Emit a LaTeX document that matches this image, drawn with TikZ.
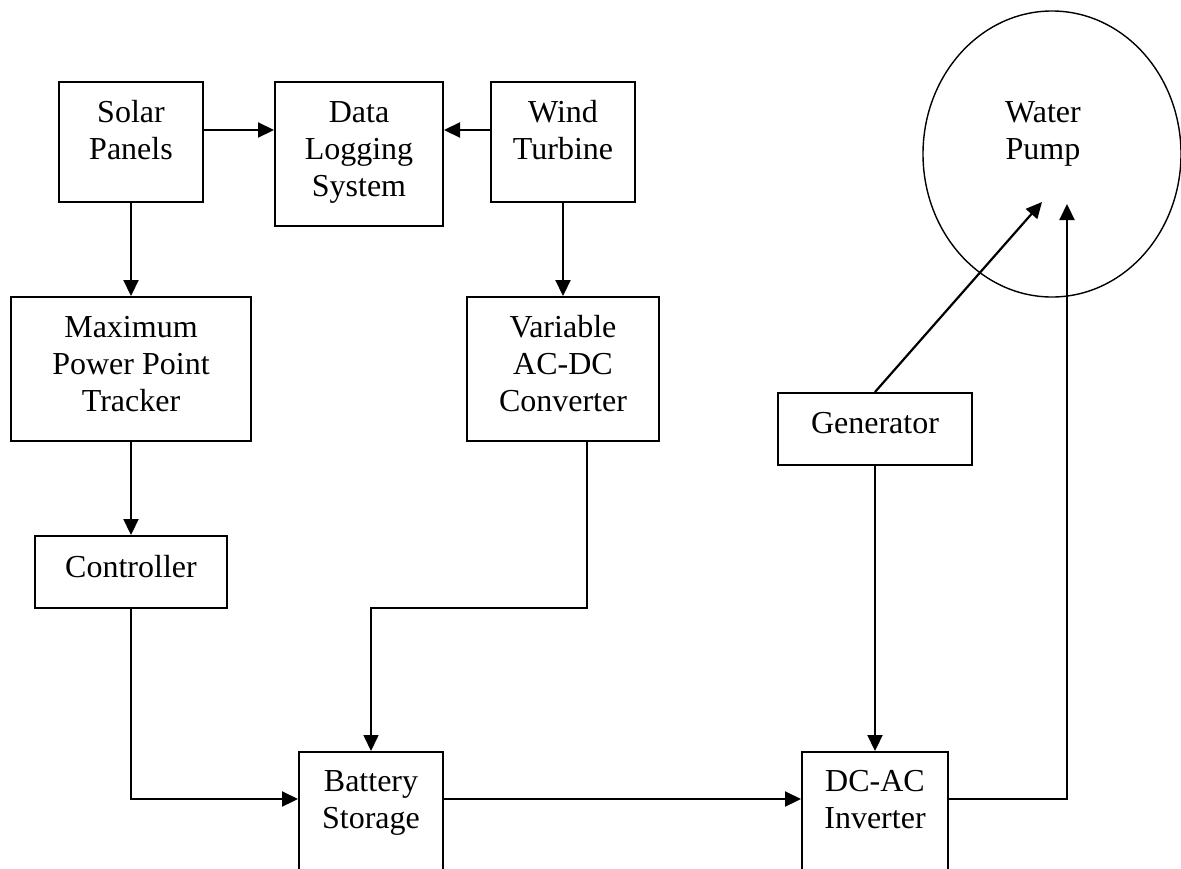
\documentclass[tikz,border=0pt]{standalone}
\usepackage{fontspec}
\setmainfont{Liberation Serif}
\usetikzlibrary{arrows.meta,shapes.geometric,calc}
\newcommand{\mystrut}{\rule{0pt}{24pt}}
\begin{document}
\begin{tikzpicture}[x=1pt,y=-1pt,
  box/.style={draw, line width=2pt, rectangle, inner sep=0pt},
  lbl/.style={anchor=north, inner sep=0pt, align=center, font=\fontsize{32}{37}\selectfont},
  arr/.style={line width=2.2pt, -{Triangle[length=16pt,width=15pt]}},
  thinarr/.style={line width=1.6pt, -{Triangle[length=16pt,width=15pt]}},
  thinline/.style={line width=1.3pt},
]
\useasboundingbox (0,0) rectangle (1181,868);
\fill[white] (0,0) rectangle (1181,868);
\clip (0,0) rectangle (1181,868);

% boxes
\node[box, minimum width=144, minimum height=120] (solar) at (131,142) {};
\node[box, minimum width=168, minimum height=144] (data) at (359,154) {};
\node[box, minimum width=144, minimum height=120] (wind) at (563,142) {};
\node[box, minimum width=240, minimum height=144] (mppt) at (131,369) {};
\node[box, minimum width=192, minimum height=144] (var) at (563,369) {};
\node[box, minimum width=192, minimum height=72] (ctrl) at (131,572) {};
\node[box, minimum width=194, minimum height=72] (gen) at (875,429) {};
\node[box, minimum width=144, minimum height=144] (batt) at (371,824) {};
\node[box, minimum width=146, minimum height=144] (inv) at (875,824) {};
\node[draw, ellipse, line width=1.4pt, minimum width=258, minimum height=286, inner sep=0pt] (pump) at (1052,154) {};

% labels
\node[lbl] (solarT) at (131,98) {\mystrut Solar\\Panels};
\node[lbl] (dataT) at (359,98) {\mystrut Data\\Logging\\System};
\node[lbl] (windT) at (563,98) {\mystrut Wind\\Turbine};
\node[lbl] (mpptT) at (131,313) {\mystrut Maximum\\Power Point\\Tracker};
\node[lbl] (varT) at (563,313) {\mystrut Variable\\AC-DC\\Converter};
\node[lbl] (ctrlT) at (131,553) {\mystrut Controller};
\node[lbl] (genT) at (875,409) {\mystrut Generator};
\node[lbl] (battT) at (371,767) {\mystrut Battery\\Storage};
\node[lbl] (invT) at (875,767) {\mystrut DC-AC\\Inverter};
\node[lbl] (pumpT) at (1043,98) {\mystrut Water\\Pump};

% free ends and bends
\coordinate (pin1) at (1042,202);
\coordinate (pin2) at (1067,204);
\coordinate (vbend) at (587,608);
\coordinate (ibend) at (1067,752);

% connectors
\draw[arr] (solar.east |- 0,130) -- (data.west |- 0,130);
\draw[arr] (wind.west |- 0,130) -- (data.east |- 0,130);
\draw[arr] (solar.south) -- (mppt.north);
\draw[arr] (wind.south) -- (var.north);
\draw[arr] (mppt.south) -- (ctrl.north);
\draw[arr] (ctrl.south) |- (batt.west |- 0,799);
\draw[thinarr] (var.south -| vbend) -- (vbend) -| (batt.north);
\draw[arr] (batt.east |- 0,799) -- (inv.west |- 0,799);
\draw[arr] (gen.south) -- (inv.north);
\draw[arr] (gen.north) -- (pin1);
\draw[thinline] (inv.east |- 0,799) -| (ibend);
\draw[arr] (ibend) -- (pin2);
\end{tikzpicture}
\end{document}
